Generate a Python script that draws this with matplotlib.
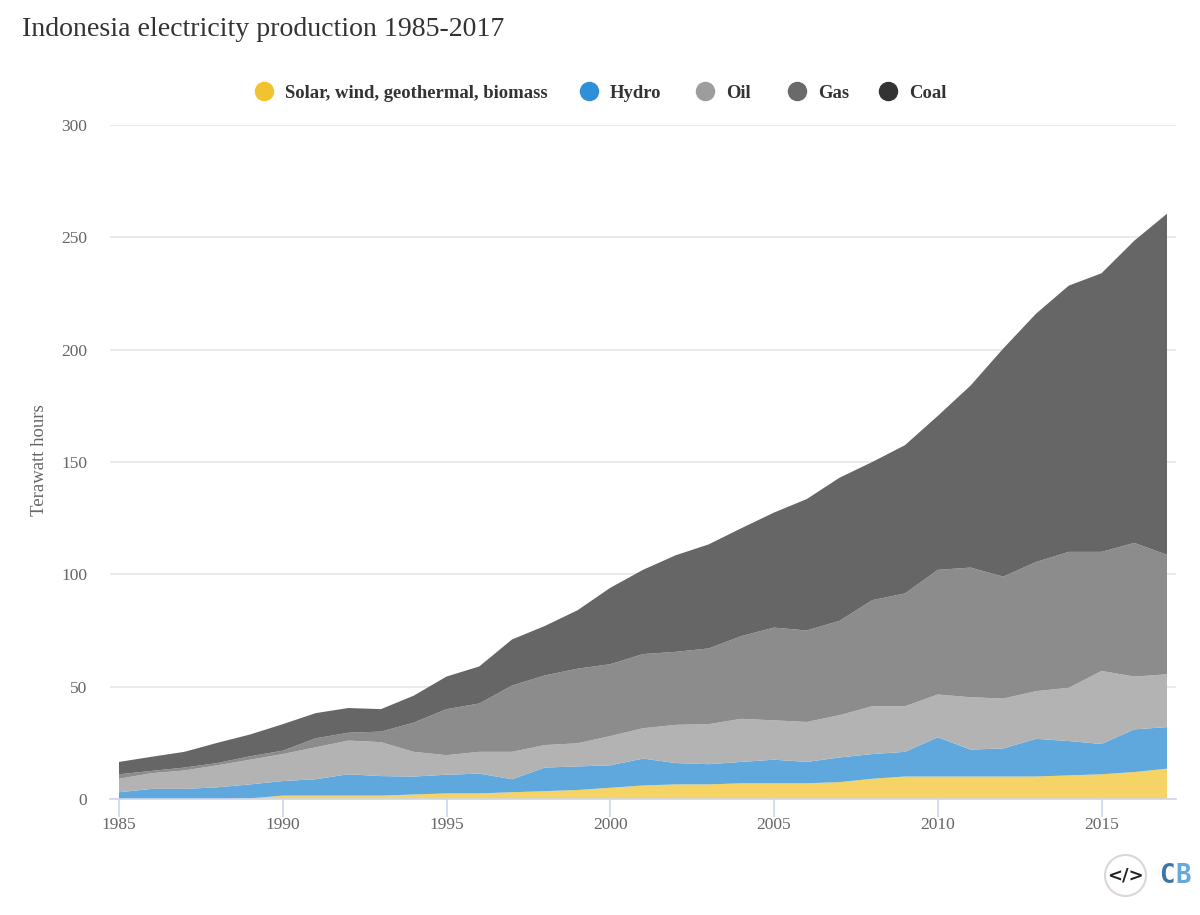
import matplotlib
matplotlib.use("Agg")
import matplotlib.pyplot as plt
import numpy as np
from matplotlib.lines import Line2D
from matplotlib.patches import Circle

plt.rcParams['font.family'] = ['Liberation Serif', 'DejaVu Serif']

years = list(range(1985, 2018))
labels = ["Solar, wind, geothermal, biomass", "Hydro", "Oil", "Gas", "Coal"]
x_ticks = [1985, 1990, 1995, 2000, 2005, 2010, 2015]
y_ticks = [0, 50, 100, 150, 200, 250, 300]

solar = [0, 0, 0, 0, 0.3, 1.5, 1.5, 1.5, 1.5, 2, 2.5, 2.5, 3, 3.5, 4, 5, 6, 6.5, 6.5, 7, 7, 7, 7.5, 9,
         10, 10, 10, 10, 10, 10.5, 11, 12, 13.5]
hydro = [3, 4.5, 4.5, 5.2, 6.2, 6.5, 7.3, 9.5, 8.7, 8, 8.3, 8.8, 5.8, 10.5, 10.5, 10, 12, 9.5, 9, 9.5,
         10.5, 9.5, 11, 11, 11, 17.5, 12, 12.5, 16.8, 15.3, 13.5, 19, 18.5]
oil = [6, 7, 8.2, 9.8, 11, 12, 14.2, 15, 15.1, 11, 8.7, 9.7, 12.2, 10, 10.3, 13, 13.5, 17, 17.8, 19.2,
       17.5, 17.8, 18.8, 21.3, 20.3, 19, 23.3, 22.2, 21.2, 23.7, 32.5, 23.5, 23.5]
gas = [2, 1, 1.3, 1, 1.5, 1.5, 4, 3.5, 4.7, 13, 20.5, 21.5, 29.5, 31, 33.2, 32, 33, 32.5, 33.7, 36.8,
       41.3, 40.7, 42, 47.2, 50.2, 55.5, 57.7, 54.3, 57.5, 60.5, 53, 59.5, 53.2]
coal = [5.5, 6.3, 7, 9, 9.7, 11.8, 11.2, 11, 10, 12, 14.5, 16.5, 20.5, 22, 26, 34, 37.5, 43, 46.3, 48,
        51.2, 58.5, 63.7, 61.5, 66, 68.5, 81, 101.5, 110.5, 118.5, 124, 134.5, 151.8]

area_colors = ["#f6d365", "#5fa8de", "#b3b3b3", "#8c8c8c", "#666666"]
legend_colors = ["#f2c330", "#2f90d8", "#9d9d9d", "#6a6a6a", "#333333"]

W, H = 1200, 915
fig = plt.figure(figsize=(W / 100, H / 100), dpi=100)
# axes box in pixels: grid runs 110-1176, y 0 at 799, 300 at 125
ax = fig.add_axes([110 / W, 1 - 799 / H, 1066 / W, 674 / H])
ax.set_xlim(1985 - 9 / 32.75, 2017 + 9 / 32.75)
ax.set_ylim(0, 300)

ax.stackplot(years, solar, hydro, oil, gas, coal, colors=area_colors, linewidth=0, zorder=3)

ax.set_yticks(y_ticks)
ax.set_xticks(x_ticks)
ax.grid(axis='y', color="#e6e6e6", linewidth=1.2, zorder=1)
ax.set_axisbelow(True)
for side in ['top', 'right', 'left']:
    ax.spines[side].set_visible(False)
ax.spines['bottom'].set_color("#ccd6eb")
ax.spines['bottom'].set_linewidth(1.2)
ax.spines['bottom'].set_zorder(4)
ax.tick_params(axis='y', length=0, labelsize=12.5, labelcolor="#666666", pad=16.5)
ax.tick_params(axis='x', length=13, width=1.2, color="#ccd6eb", labelsize=12.5, labelcolor="#666666", pad=0)
ax.set_ylabel("Terawatt hours", fontsize=13.5, color="#666666")
ax.yaxis.set_label_coords(-0.0585, 0.503)

fig.text(22 / W, 1 - 30 / H, "Indonesia electricity production 1985-2017", fontsize=20.1,
         color="#333333", va='center', ha='left')

# legend, placed by hand to match the header row
legend_x = [264, 589, 705, 797, 888]
for lx, name, col in zip(legend_x, labels, legend_colors):
    fig.add_artist(Line2D([lx / W], [1 - 91 / H], marker='o', markersize=13, color=col,
                          linestyle='none', transform=fig.transFigure))
    fig.text((lx + 21) / W, 1 - 93 / H, name, fontsize=13.4, fontweight='bold', color="#333333",
             va='center', ha='left')

# Carbon Brief badge, bottom right
fig.add_artist(Circle((1125.5, H - 875.5), 20.5, transform=None, facecolor='white',
                      edgecolor="#dcd6d6", linewidth=1.5))
fig.text(1125.5 / W, 1 - 875 / H, "</>", fontsize=13, fontweight='bold', color="#222222",
         ha='center', va='center', family='DejaVu Sans')
fig.text(1159 / W, 1 - 876 / H, "C", fontsize=18.5, fontweight='bold', color="#3f75a3",
         ha='left', va='center', family='DejaVu Sans Mono')
fig.text(1175.5 / W, 1 - 876 / H, "B", fontsize=18.5, fontweight='bold', color="#62a9de",
         ha='left', va='center', family='DejaVu Sans Mono')

fig.savefig("out.png", dpi=100, facecolor='white')
